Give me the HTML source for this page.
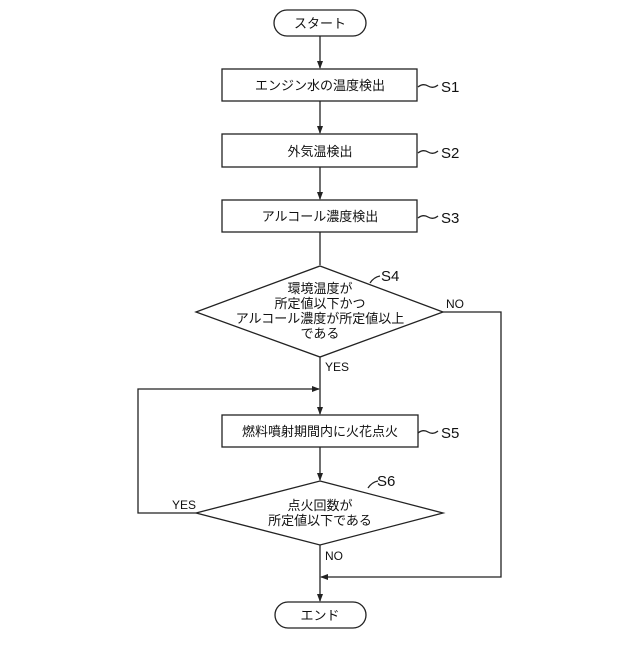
<!DOCTYPE html>
<html><head><meta charset="utf-8"><style>
body{margin:0;background:#fff}
svg text{font-family:"Liberation Sans","Noto Sans CJK JP",sans-serif;fill:#111}
</style></head><body>
<svg width="640" height="640" viewBox="0 0 640 640" xmlns="http://www.w3.org/2000/svg">
<defs><marker id="a" markerWidth="8" markerHeight="8" refX="7" refY="4" orient="auto" markerUnits="userSpaceOnUse"><path d="M0,1 L8,4 L0,7 Z" fill="#222"/></marker></defs>
<g stroke="#222" stroke-width="1.3" fill="none">
<rect x="274" y="10" width="92" height="26" rx="13" fill="#fff"/>
<rect x="222" y="69" width="195" height="32"/>
<rect x="222" y="134" width="195" height="33"/>
<rect x="222" y="200" width="195" height="32"/>
<polygon points="320,266 443,312 320,357 196,312"/>
<rect x="222" y="415" width="196" height="32"/>
<polygon points="320,481 443,513 320,545 196,513"/>
<rect x="275" y="602" width="91" height="26" rx="13"/>
<line x1="320" y1="36" x2="320" y2="68" marker-end="url(#a)"/>
<line x1="320" y1="101" x2="320" y2="133" marker-end="url(#a)"/>
<line x1="320" y1="167" x2="320" y2="199" marker-end="url(#a)"/>
<line x1="320" y1="232" x2="320" y2="265"/>
<line x1="320" y1="357" x2="320" y2="414" marker-end="url(#a)"/>
<line x1="320" y1="447" x2="320" y2="480" marker-end="url(#a)"/>
<line x1="320" y1="545" x2="320" y2="601" marker-end="url(#a)"/>
<polyline points="443,312 501,312 501,577 321,577" marker-end="url(#a)"/>
<polyline points="196,513 138,513 138,389 319,389" marker-end="url(#a)"/>
<path d="M418,87 q5,-4 10,-1 t10,-1"/>
<path d="M418,153 q5,-4 10,-1 t10,-1"/>
<path d="M418,218 q5,-4 10,-1 t10,-1"/>
<path d="M418,433 q5,-4 10,-1 t10,-1"/>
<path d="M370,283 q4,-6 10,-7"/>
<path d="M368,488 q4,-6 10,-7"/>
</g>
<g font-size="13" text-anchor="middle">
<text x="320" y="28">スタート</text>
<text x="320" y="90">エンジン水の温度検出</text>
<text x="320" y="156">外気温検出</text>
<text x="320" y="221">アルコール濃度検出</text>
<text x="320" y="293">環境温度が</text>
<text x="320" y="308">所定値以下かつ</text>
<text x="320" y="323">アルコール濃度が所定値以上</text>
<text x="320" y="338">である</text>
<text x="320" y="436">燃料噴射期間内に火花点火</text>
<text x="320" y="510">点火回数が</text>
<text x="320" y="525">所定値以下である</text>
<text x="320" y="620">エンド</text>
</g>
<g font-size="15">
<text x="441" y="92">S1</text>
<text x="441" y="158">S2</text>
<text x="441" y="223">S3</text>
<text x="381" y="281">S4</text>
<text x="441" y="438">S5</text>
<text x="377" y="486">S6</text>
</g>
<g font-size="12">
<text x="446" y="308">NO</text>
<text x="325" y="371">YES</text>
<text x="172" y="509">YES</text>
<text x="325" y="560">NO</text>
</g>
</svg>
</body></html>
